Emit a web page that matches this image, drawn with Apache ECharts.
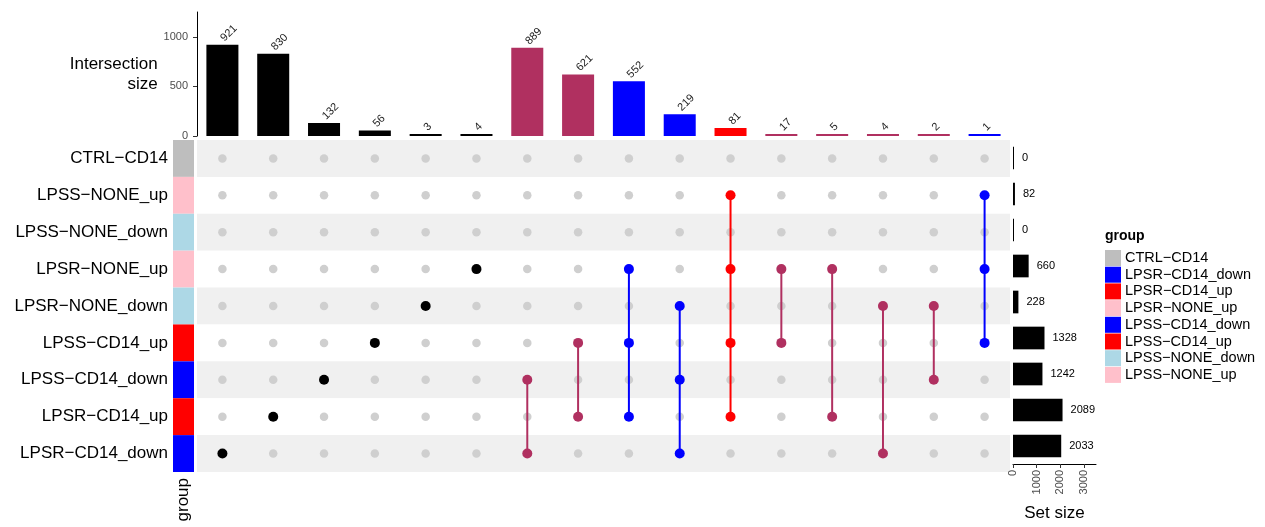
<!DOCTYPE html>
<html>
<head>
<meta charset="utf-8">
<script src="https://cdn.jsdelivr.net/npm/echarts@6/dist/echarts.min.js"></script>
<style>html,body{margin:0;padding:0;background:#fff;}#chart{width:1265px;height:527px;}</style>
</head>
<body>
<div id="chart"></div>
<script>
// ---------- data ----------
const setNames = ['CTRL-CD14','LPSS-NONE_up','LPSS-NONE_down','LPSR-NONE_up','LPSR-NONE_down','LPSS-CD14_up','LPSS-CD14_down','LPSR-CD14_up','LPSR-CD14_down'];
const setSizes = [0, 82, 0, 660, 228, 1328, 1242, 2089, 2033];
const setGroupColors = ['#BEBEBE','#FFC0CB','#ADD8E6','#FFC0CB','#ADD8E6','#FF0000','#0000FF','#FF0000','#0000FF'];

const intersectionSizes = [921, 830, 132, 56, 3, 4, 889, 621, 552, 219, 81, 17, 5, 4, 2, 1];
// members given as indices into setNames
const intersectionMembers = [[8],[7],[6],[5],[4],[3],[6,8],[5,7],[3,5,7],[4,6,8],[1,3,5,7],[3,5],[3,7],[4,8],[4,6],[1,3,5]];
const intersectionColors = ['#000000','#000000','#000000','#000000','#000000','#000000','#B03060','#B03060','#0000FF','#0000FF','#FF0000','#B03060','#B03060','#B03060','#B03060','#0000FF'];

const legendNames = ['CTRL-CD14','LPSR-CD14_down','LPSR-CD14_up','LPSR-NONE_up','LPSS-CD14_down','LPSS-CD14_up','LPSS-NONE_down','LPSS-NONE_up'];
const legendColors = ['#BEBEBE','#0000FF','#FF0000','#FFC0CB','#0000FF','#FF0000','#ADD8E6','#FFC0CB'];

const barTicks = [0, 500, 1000];
const setTicks = [0, 1000, 2000, 3000];

// ---------- build ----------
const FONT = "'Liberation Sans', Arial, Helvetica, sans-serif";
const disp = s => s.replace(/-/g, '\u2212');
const cols = intersectionSizes.map((_, i) => 'I' + (i + 1));

const greyDots = [], colorDots = [], segs = [];
intersectionMembers.forEach((m, c) => {
  setNames.forEach((_, r) => {
    if (m.indexOf(r) < 0) greyDots.push([c, r]);
    else colorDots.push({ value: [c, r], itemStyle: { color: intersectionColors[c], opacity: 1 } });
  });
  if (m.length > 1) segs.push([c, Math.min(...m), Math.max(...m), c]);
});

const chart = echarts.init(document.getElementById('chart'), null, { renderer: 'canvas' });
const option = {
  animation: false,
  textStyle: { fontFamily: FONT },
  title: {
    text: 'group', left: 1105, top: 229, padding: 0,
    textStyle: { fontFamily: FONT, fontSize: 14, fontWeight: 'bold', color: '#000' }
  },
  legend: {
    data: legendNames, orient: 'vertical', left: 1105, top: 250, padding: 0,
    icon: 'rect', itemWidth: 16, itemHeight: 16, itemGap: 0.7,
    selectedMode: false,
    formatter: n => disp(n),
    textStyle: { fontFamily: FONT, fontSize: 14.5, color: '#000', padding: [0, 0, 0, -1] }
  },
  grid: [
    { left: 197, top: 12, width: 813, height: 124 },
    { left: 197, top: 140, width: 813, height: 332 },
    { left: 1013, top: 140, width: 83, height: 332 },
    { left: 173, top: 140, width: 21, height: 332 }
  ],
  xAxis: [
    { gridIndex: 0, type: 'category', data: cols, axisLine: { show: false }, axisTick: { show: false }, axisLabel: { show: false } },
    { gridIndex: 1, type: 'category', data: cols, axisLine: { show: false }, axisTick: { show: false }, axisLabel: { show: false } },
    { gridIndex: 2, type: 'value', min: 0, max: 3500,
      axisLine: { show: true, lineStyle: { color: '#000', width: 1 } },
      axisTick: { show: true, length: 4, lineStyle: { color: '#333' }, customValues: setTicks },
      axisLabel: { rotate: 90, fontSize: 11, color: '#4D4D4D', margin: 6, customValues: setTicks, fontFamily: FONT,
                   formatter: v => String(v) },
      splitLine: { show: false },
      name: 'Set size', nameLocation: 'middle', nameGap: 41,
      nameTextStyle: { fontSize: 17, color: '#000', fontFamily: FONT } },
    { gridIndex: 3, type: 'value', min: 0, max: 1, show: false }
  ],
  yAxis: [
    { gridIndex: 0, type: 'value', min: 0, max: 1250,
      axisLine: { show: true, lineStyle: { color: '#000', width: 1 } },
      axisTick: { show: true, length: 4, lineStyle: { color: '#333' }, customValues: barTicks },
      axisLabel: { fontSize: 11, color: '#4D4D4D', margin: 9, customValues: barTicks, fontFamily: FONT,
                   formatter: v => String(v) },
      splitLine: { show: false },
      name: 'Intersection\nsize', nameLocation: 'middle', nameRotate: 0, nameGap: 39,
      nameTextStyle: { fontSize: 17, color: '#000', align: 'right', lineHeight: 20, fontFamily: FONT } },
    { gridIndex: 1, type: 'category', data: setNames, inverse: true,
      axisLine: { show: false }, axisTick: { show: false }, axisLabel: { show: false },
      splitArea: { show: true, areaStyle: { color: ['#F0F0F0', '#FFFFFF'] } } },
    { gridIndex: 2, type: 'category', data: setNames, inverse: true,
      axisLine: { show: false }, axisTick: { show: false }, axisLabel: { show: false } },
    { gridIndex: 3, type: 'category', data: setNames, inverse: true,
      axisLine: { show: false }, axisTick: { show: false },
      axisLabel: { fontSize: 17, color: '#000', margin: 5, formatter: v => disp(v), fontFamily: FONT } }
  ],
  graphic: [
    { type: 'text', x: 183, y: 478, rotation: Math.PI / 2,
      style: { text: 'group', fontSize: 17, fill: '#000', fontFamily: FONT, align: 'right', verticalAlign: 'middle' } }
  ],
  series: [
    { type: 'bar', name: 'Intersection size', xAxisIndex: 0, yAxisIndex: 0,
      barCategoryGap: '37%', barMinHeight: 2,
      data: intersectionSizes.map((v, i) => ({ value: v, itemStyle: { color: intersectionColors[i] } })),
      label: { show: true, position: 'top', distance: 5, rotate: 45, align: 'left', verticalAlign: 'middle',
               fontSize: 11, color: '#222', fontFamily: FONT } },
    { type: 'scatter', name: 'empty', xAxisIndex: 1, yAxisIndex: 1, symbolSize: 8.5, z: 2,
      itemStyle: { color: '#CFCFCF', opacity: 1 }, data: greyDots },
    { type: 'custom', name: 'links', xAxisIndex: 1, yAxisIndex: 1, z: 3,
      data: segs,
      renderItem: (params, api) => {
        const p1 = api.coord([api.value(0), api.value(1)]);
        const p2 = api.coord([api.value(0), api.value(2)]);
        return { type: 'line', shape: { x1: p1[0], y1: p1[1], x2: p2[0], y2: p2[1] },
                 style: { stroke: intersectionColors[api.value(3)], lineWidth: 2 } };
      } },
    { type: 'scatter', name: 'members', xAxisIndex: 1, yAxisIndex: 1, symbolSize: 10, z: 4, data: colorDots },
    { type: 'bar', name: 'Set size', xAxisIndex: 2, yAxisIndex: 2,
      barCategoryGap: '37%', barMinHeight: 1,
      itemStyle: { color: '#000' }, data: setSizes,
      label: { show: true, position: 'right', distance: 8, fontSize: 11, color: '#000', fontFamily: FONT } },
    { type: 'bar', name: 'group', xAxisIndex: 3, yAxisIndex: 3, barCategoryGap: '0%',
      data: setGroupColors.map(c => ({ value: 1, itemStyle: { color: c } })) }
  ].concat(legendNames.map((n, i) => ({
    type: 'scatter', name: n, xAxisIndex: 3, yAxisIndex: 3, data: [], itemStyle: { color: legendColors[i], opacity: 1 }
  })))
};
chart.setOption(option);
</script>
</body>
</html>
